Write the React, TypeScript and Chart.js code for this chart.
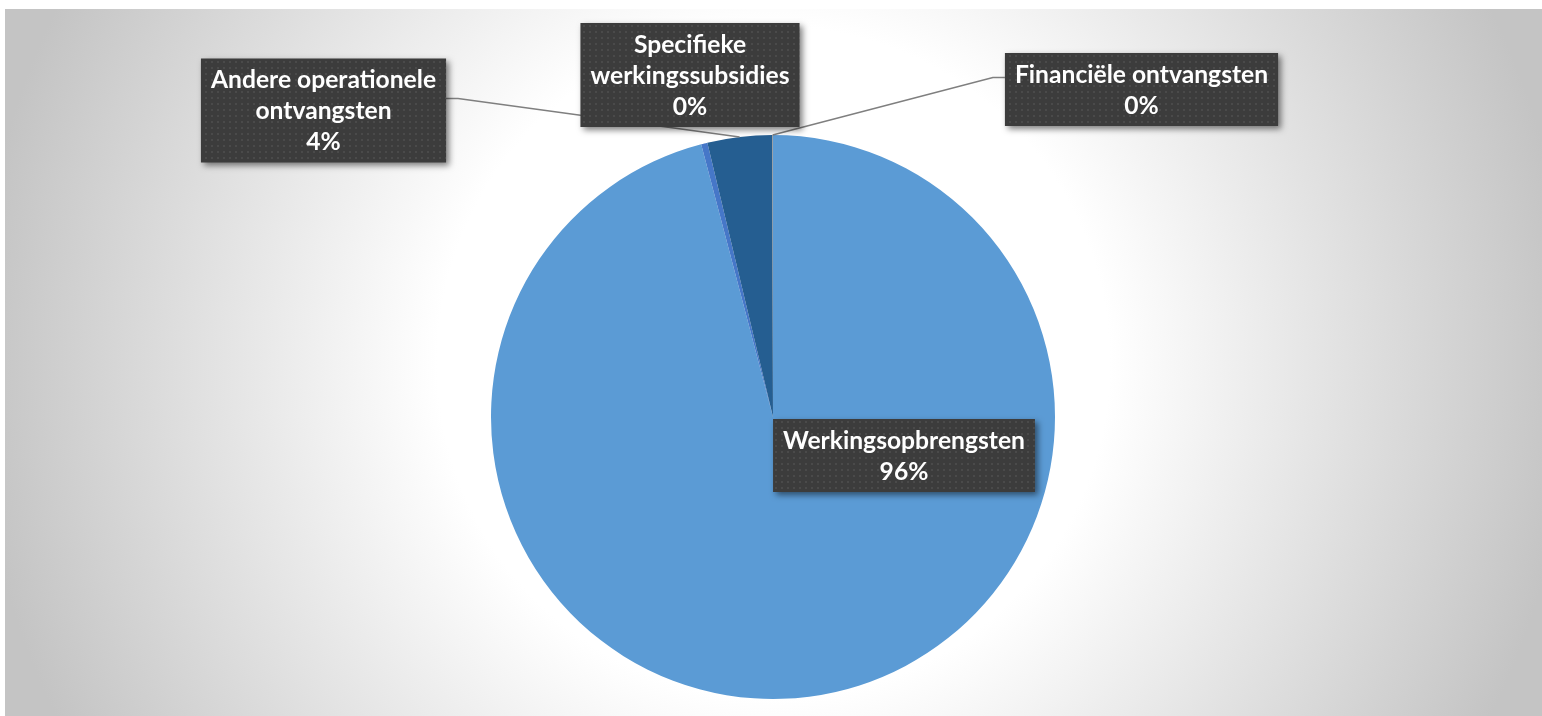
import React, { useEffect, useRef } from "react";
import { Chart, registerables } from "chart.js";

Chart.register(...registerables);

// ---- data ----
const categories = [
  "Werkingsopbrengsten",
  "Specifieke werkingssubsidies",
  "Andere operationele ontvangsten",
  "Financiële ontvangsten",
];
const values = [95.9, 0.36, 3.7, 0.04];
const sliceColors = ["#5B9BD5", "#4677C8", "#255E91", "#8C8C8C"];
const labelLines = [
  ["Werkingsopbrengsten"],
  ["Specifieke", "werkingssubsidies"],
  ["Andere operationele", "ontvangsten"],
  ["Financiële ontvangsten"],
];

// ---- layout (label box centres, in canvas px) ----
const labelLayout = [
  { cx: 904, cy: 455.5, leader: false, side: 0 },
  { cx: 690, cy: 75, leader: false, side: 0 },
  { cx: 323.5, cy: 110.5, leader: true, side: 1 },
  { cx: 1141.5, cy: 89.5, leader: true, side: -1 },
];

const W = 1542;
const H = 716;

function makePattern(ctx: CanvasRenderingContext2D) {
  const c = document.createElement("canvas");
  c.width = 6;
  c.height = 6;
  const p = c.getContext("2d")!;
  p.fillStyle = "#3c3c3c";
  p.fillRect(0, 0, 6, 6);
  p.fillStyle = "#4a4a4a";
  p.fillRect(1, 1, 2, 2);
  return ctx.createPattern(c, "repeat");
}

const bgPlugin = {
  id: "bg",
  beforeDraw(chart: any) {
    const ctx = chart.ctx as CanvasRenderingContext2D;
    ctx.save();
    ctx.fillStyle = "#ffffff";
    ctx.fillRect(0, 0, W, H);
    const x0 = 5, y0 = 9, w = W - x0, h = H - y0;
    const cx = x0 + w / 2, cy = y0 + h / 2;
    const r = 800;
    const g = ctx.createRadialGradient(cx, cy, 0, cx, cy, r);
    g.addColorStop(0, "#ffffff");
    g.addColorStop(0.42, "#ffffff");
    g.addColorStop(0.96, "#c8c8c8");
    g.addColorStop(1, "#c4c4c4");
    ctx.fillStyle = g;
    ctx.fillRect(x0, y0, w, h);
    ctx.restore();
  },
};

const labelPlugin = {
  id: "boxLabels",
  afterDatasetsDraw(chart: any) {
    const ctx = chart.ctx as CanvasRenderingContext2D;
    const meta = chart.getDatasetMeta(0);
    const data = chart.data.datasets[0].data as number[];
    const total = data.reduce((a, b) => a + b, 0);
    ctx.save();
    ctx.font = "bold 100px Lato";
    const ref = ctx.measureText("Werkingsopbrengsten").width;
    const size = (100 * 242) / ref;
    const font = `bold ${size}px Lato`;
    ctx.font = font;
    const pattern = makePattern(ctx);
    const lineGap = 31;
    const pad = 10;

    const boxes = labelLayout.map((lay, i) => {
      const lines = [...labelLines[i], Math.round((data[i] / total) * 100) + "%"];
      const tw = Math.max(...lines.map((l) => ctx.measureText(l).width));
      const bw = tw + pad * 2;
      const bh = 42 + lineGap * (lines.length - 1);
      return { lines, x: lay.cx - bw / 2, y: lay.cy - bh / 2, w: bw, h: bh };
    });

    // leader lines
    ctx.strokeStyle = "#7f7f7f";
    ctx.lineWidth = 1.5;
    labelLayout.forEach((lay, i) => {
      if (!lay.leader) return;
      const arc = meta.data[i];
      const p = arc.getProps(["x", "y", "startAngle", "endAngle", "outerRadius"], true);
      const mid = (p.startAngle + p.endAngle) / 2;
      const ex = p.x + Math.cos(mid) * p.outerRadius;
      const ey = p.y + Math.sin(mid) * p.outerRadius;
      const b = boxes[i];
      const sx = lay.side > 0 ? b.x + b.w : b.x;
      const sy = lay.cy - 12;
      ctx.beginPath();
      ctx.moveTo(sx, sy);
      ctx.lineTo(sx + lay.side * 12, sy);
      ctx.lineTo(ex, ey);
      ctx.stroke();
    });

    // boxes
    boxes.forEach((b) => {
      ctx.save();
      ctx.shadowColor = "rgba(0,0,0,0.5)";
      ctx.shadowBlur = 6;
      ctx.shadowOffsetX = 3;
      ctx.shadowOffsetY = 3;
      ctx.fillStyle = pattern || "#3c3c3c";
      ctx.fillRect(b.x, b.y, b.w, b.h);
      ctx.restore();
      ctx.fillStyle = "#ffffff";
      ctx.textAlign = "center";
      ctx.textBaseline = "middle";
      ctx.font = font;
      b.lines.forEach((l, k) => {
        ctx.fillText(l, b.x + b.w / 2, b.y + 21 + k * lineGap + 1);
      });
    });
    ctx.restore();
  },
};

export default function App() {
  const ref = useRef<HTMLCanvasElement>(null);
  useEffect(() => {
    document.body.style.margin = "0";
    document.body.style.overflow = "hidden";
    const chart = new Chart(ref.current!, {
      type: "pie",
      data: {
        labels: categories,
        datasets: [
          {
            data: values,
            backgroundColor: sliceColors,
            borderWidth: 0,
          },
        ],
      },
      options: {
        responsive: false,
        animation: false,
        devicePixelRatio: 1,
        layout: { padding: { left: 4, right: 0, top: 135, bottom: 17 } },
        plugins: {
          legend: { display: false },
          tooltip: { enabled: false },
        },
      },
      plugins: [bgPlugin, labelPlugin],
    });
    return () => chart.destroy();
  }, []);
  return (
    <div style={{ position: "absolute", left: 0, top: 0, width: W, height: H }}>
      <canvas ref={ref} width={W} height={H} style={{ width: W, height: H, display: "block" }} />
    </div>
  );
}
